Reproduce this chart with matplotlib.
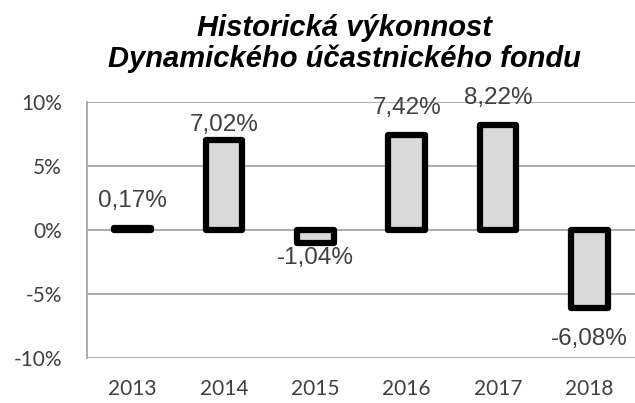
import matplotlib.pyplot as plt
from matplotlib.ticker import FuncFormatter

years = ['2013', '2014', '2015', '2016', '2017', '2018']
returns = [0.17, 7.02, -1.04, 7.42, 8.22, -6.08]
labels = ['0,17%', '7,02%', '-1,04%', '7,42%', '8,22%', '-6,08%']
# label distance from bar end, in pixels (Excel places them unevenly)
label_gap = [27, 15, 15, 27, 27, 31]

fig = plt.figure(figsize=(6.35, 4.03), dpi=100)
ax = fig.add_axes([0.137, 0.1117, 0.863, 0.6352])

ax.set_ylim(-10, 10)
ax.set_xlim(-0.5, len(years) - 0.5)
ax.set_yticks([-10, -5, 0, 5, 10])
ax.yaxis.set_major_formatter(FuncFormatter(lambda v, _: f'{v:.0f}%'))
ax.grid(axis='y', color='#a6a6a6', linewidth=1.3, zorder=0)
ax.set_axisbelow(True)

for s in ['top', 'right', 'bottom']:
    ax.spines[s].set_visible(False)
ax.spines['left'].set_color('#a6a6a6')
ax.spines['left'].set_linewidth(1.3)
ax.tick_params(length=0, labelsize=15, colors='#404040')
ax.tick_params(axis='y', pad=18)
ax.tick_params(axis='x', pad=15)
for t in ax.get_xticklabels() + ax.get_yticklabels():
    t.set_family('Lato')

bars = ax.bar(range(len(years)), returns, width=0.40, color='#d9d9d9',
              edgecolor='black', linewidth=4.5, zorder=3)
for b in bars:
    b.set_joinstyle('round')
ax.set_xticks(range(len(years)))
ax.set_xticklabels(years, family='Lato')

for i, (v, lab) in enumerate(zip(returns, labels)):
    off = label_gap[i] if v >= 0 else -label_gap[i]
    ax.annotate(lab, (i, v), xytext=(0, off * 0.72), textcoords='offset points',
                ha='center', va='center', fontsize=17.5, color='#404040',
                family='Liberation Sans')

title_kw = dict(ha='center', va='baseline', fontsize=21, fontweight='bold',
                fontstyle='italic', family='Liberation Sans', color='black')
fig.text(0.542, 0.911, 'Historická výkonnost', **title_kw)
fig.text(0.542, 0.834, 'Dynamického účastnického fondu', **title_kw)

fig.savefig('out.png', dpi=100, facecolor='white')
